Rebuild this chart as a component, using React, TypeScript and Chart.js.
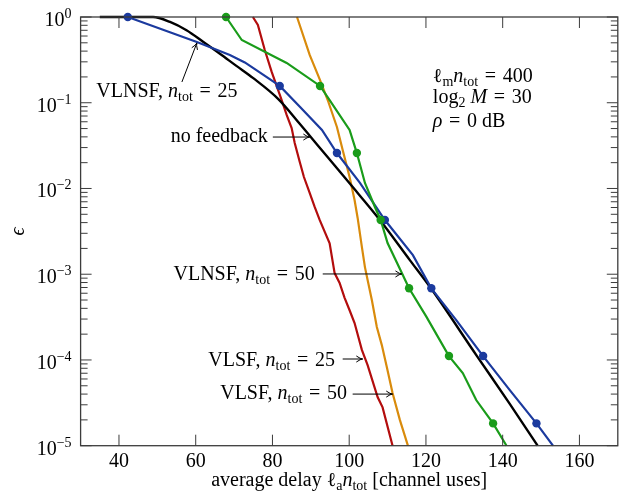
import React, { useEffect, useRef } from "react";
import { Chart, registerables } from "chart.js";
Chart.register(...registerables);

// ---------- axes ----------
const X_MIN = 30;
const X_MAX = 170;
const xTickValues = [40, 60, 80, 100, 120, 140, 160];
const yTickExponents = [0, -1, -2, -3, -4, -5];

// ---------- data ----------
// VLNSF, n_tot = 25 (blue)
const vlnsf25X = [42.3, 60.3, 68.9, 72.8, 81.9, 87.2, 92.9, 96.8, 102.8, 109.3, 116.6, 121.4, 127.9, 134.9, 141.8, 148.8, 153.1];
const vlnsf25Y = [1, 0.511, 0.361, 0.295, 0.157, 0.0891, 0.0481, 0.0259, 0.0116, 0.00429, 0.00167, 0.000685, 0.000292, 0.000111, 4.47e-5, 1.82e-5, 1e-5];
const vlnsf25Marks = [0, 4, 7, 9, 11, 13, 15];

// VLNSF, n_tot = 50 (green)
const vlnsf50X = [67.9, 72.0, 83.7, 92.4, 94.9, 100.1, 102.0, 104.1, 106.7, 108.2, 110.0, 113.1, 115.6, 120.1, 126.0, 129.6, 133.1, 137.5, 141.0];
const vlnsf50Y = [1, 0.539, 0.291, 0.157, 0.1076, 0.0481, 0.0259, 0.0116, 0.00608, 0.00429, 0.00231, 0.00118, 0.000685, 0.00032, 0.000111, 7.05e-5, 3.41e-5, 1.82e-5, 1e-5];
const vlnsf50Marks = [0, 3, 6, 9, 12, 14, 17];

// no feedback (black)
const noFbX = [35, 48.9, 53.3, 57.6, 62.0, 66.3, 70.6, 74.9, 81.6, 87.1, 91.5, 100.1, 108.0, 115.8, 121.3, 133.3, 141.8, 149.1];
const noFbY = [1, 0.998, 0.875, 0.70, 0.511, 0.373, 0.269, 0.195, 0.1096, 0.0569, 0.0331, 0.01148, 0.00429, 0.00146, 0.000685, 0.000111, 3.1e-5, 1e-5];

// VLSF, n_tot = 25 (red)
const vlsf25X = [74.9, 76.2, 78.0, 79.8, 82.4, 83.7, 85.0, 85.8, 87.1, 88.2, 89.7, 91.0, 92.3, 94.9, 96.2, 97.5, 98.8, 100.1, 101.4, 103.3, 104.8, 107.4, 108.7, 111.3];
const vlsf25Y = [1, 0.807, 0.412, 0.229, 0.1076, 0.072, 0.0507, 0.034, 0.0205, 0.0136, 0.0089, 0.0061, 0.0043, 0.0023, 0.00103, 0.00079, 0.00053, 0.00038, 0.00027, 0.000131, 8.7e-5, 3.7e-5, 2.8e-5, 1e-5];

// VLSF, n_tot = 50 (orange)
const vlsf50X = [86.4, 89.7, 92.4, 94.4, 96.8, 98.3, 100.1, 101.4, 102.2, 103.3, 104.1, 104.8, 105.9, 107.2, 108.5, 109.8, 111.3, 113.2, 115.3];
const vlsf50Y = [1, 0.361, 0.184, 0.1076, 0.0521, 0.0281, 0.0136, 0.00734, 0.00453, 0.00208, 0.00121, 0.000857, 0.000501, 0.000242, 0.000149, 8.28e-5, 4.12e-5, 2.0e-5, 1e-5];

// ---------- colours ----------
const BLUE = "#1b3a9e";
const GREEN = "#1a9c1a";
const BLACK = "#000000";
const RED = "#b30d0d";
const ORANGE = "#d98b0c";
const FRAME = "#3c3c3c";

// ---------- text ----------
const FONT_FAMILY = '"Liberation Serif", "DejaVu Serif", serif';
const FS = 20;
const SS = 14;
const EQ = "\u2004=\u2004";

type Seg = { t: string; k: "rm" | "it" | "sub" | "sup" };

const nTot: Seg[] = [{ t: "n", k: "it" }, { t: "tot", k: "sub" }];
const labelVlnsf25: Seg[] = [{ t: "VLNSF, ", k: "rm" }, ...nTot, { t: EQ + "25", k: "rm" }];
const labelVlnsf50: Seg[] = [{ t: "VLNSF, ", k: "rm" }, ...nTot, { t: EQ + "50", k: "rm" }];
const labelVlsf25: Seg[] = [{ t: "VLSF, ", k: "rm" }, ...nTot, { t: EQ + "25", k: "rm" }];
const labelVlsf50: Seg[] = [{ t: "VLSF, ", k: "rm" }, ...nTot, { t: EQ + "50", k: "rm" }];
const labelNoFb: Seg[] = [{ t: "no feedback", k: "rm" }];

const infoLines: Seg[][] = [
  [{ t: "ℓ", k: "rm" }, { t: "m", k: "sub" }, { t: "n", k: "it" }, { t: "tot", k: "sub" }, { t: EQ + "400", k: "rm" }],
  [{ t: "log", k: "rm" }, { t: "2", k: "sub" }, { t: " ", k: "rm" }, { t: "M", k: "it" }, { t: EQ + "30", k: "rm" }],
  [{ t: "ρ", k: "it" }, { t: EQ + "0 dB", k: "rm" }],
];
const infoX = 121.8;
const infoY = [0.1746, 0.0993, 0.0521];

const xTitle: Seg[] = [
  { t: "average delay ", k: "rm" },
  { t: "ℓ", k: "rm" },
  { t: "a", k: "sub" },
  { t: "n", k: "it" },
  { t: "tot", k: "sub" },
  { t: " [channel uses]", k: "rm" },
];
const yTitle = "ϵ";

// curve labels anchored in data coordinates (x value, y value at baseline)
const curveLabels = [
  { segs: labelVlnsf25, x: 52.5, y: 0.1167, align: "center" },
  { segs: labelNoFb, x: 78.8, y: 0.0348, align: "right" },
  { segs: labelVlnsf50, x: 91.0, y: 0.000857, align: "right" },
  { segs: labelVlsf25, x: 96.3, y: 8.5e-5, align: "right" },
  { segs: labelVlsf50, x: 99.4, y: 3.5e-5, align: "right" },
];
const arrows = [
  { x0: 56.4, y0: 0.1746, x1: 60.3, y1: 0.498 },
  { x0: 80.1, y0: 0.0398, x1: 89.7, y1: 0.0398 },
  { x0: 93.1, y0: 0.001007, x1: 113.7, y1: 0.001007 },
  { x0: 98.3, y0: 1.026e-4, x1: 103.5, y1: 1.026e-4 },
  { x0: 100.9, y0: 4.0e-5, x1: 111.3, y1: 4.0e-5 },
];

function fontFor(k: string) {
  if (k === "it") return `italic ${FS}px ${FONT_FAMILY}`;
  if (k === "sub" || k === "sup") return `${SS}px ${FONT_FAMILY}`;
  return `${FS}px ${FONT_FAMILY}`;
}
function richWidth(ctx: CanvasRenderingContext2D, segs: Seg[]) {
  let w = 0;
  for (const s of segs) {
    ctx.font = fontFor(s.k);
    w += ctx.measureText(s.t).width;
  }
  return w;
}
function drawRich(ctx: CanvasRenderingContext2D, segs: Seg[], x: number, y: number, align: string) {
  const w = richWidth(ctx, segs);
  let cx = align === "right" ? x - w : align === "center" ? x - w / 2 : x;
  ctx.textAlign = "left";
  ctx.textBaseline = "alphabetic";
  for (const s of segs) {
    ctx.font = fontFor(s.k);
    const dy = s.k === "sub" ? 4 : s.k === "sup" ? -8 : 0;
    ctx.fillText(s.t, cx, y + dy);
    cx += ctx.measureText(s.t).width;
  }
}

function pts(xs: number[], ys: number[]) {
  return xs.map((x, i) => ({ x, y: ys[i] }));
}
function radii(n: number, marks: number[], r: number) {
  return Array.from({ length: n }, (_, i) => (marks.includes(i) ? r : 0));
}

const decorPlugin = {
  id: "decor",
  afterDatasetsDraw(chart: any) {
    const { ctx, chartArea: a, scales } = chart;
    const xs = scales.x;
    const ys = scales.y;
    ctx.save();
    ctx.strokeStyle = FRAME;
    ctx.lineWidth = 1;
    ctx.beginPath();
    const MAJ = 11;
    const MIN = 7;
    for (const v of xTickValues) {
      const px = xs.getPixelForValue(v);
      ctx.moveTo(px, a.bottom);
      ctx.lineTo(px, a.bottom - MAJ);
      ctx.moveTo(px, a.top);
      ctx.lineTo(px, a.top + MAJ);
    }
    for (const e of yTickExponents) {
      const py = ys.getPixelForValue(Math.pow(10, e));
      ctx.moveTo(a.left, py);
      ctx.lineTo(a.left + MAJ, py);
      ctx.moveTo(a.right, py);
      ctx.lineTo(a.right - MAJ, py);
      if (e < 0) {
        for (let m = 2; m <= 9; m++) {
          const pm = ys.getPixelForValue(m * Math.pow(10, e));
          ctx.moveTo(a.left, pm);
          ctx.lineTo(a.left + MIN, pm);
          ctx.moveTo(a.right, pm);
          ctx.lineTo(a.right - MIN, pm);
        }
      }
    }
    ctx.stroke();
    ctx.lineWidth = 1.3;
    ctx.strokeRect(a.left, a.top, a.right - a.left, a.bottom - a.top);

    ctx.fillStyle = "#000";
    // x tick labels
    for (const v of xTickValues) {
      const px = xs.getPixelForValue(v);
      drawRich(ctx, [{ t: String(v), k: "rm" }], px, a.bottom + 21, "center");
    }
    // y tick labels
    for (const e of yTickExponents) {
      const py = ys.getPixelForValue(Math.pow(10, e));
      const exp = e === 0 ? "0" : "\u2212" + String(-e);
      drawRich(ctx, [{ t: "10", k: "rm" }, { t: exp, k: "sup" }], a.left - 9, py + 9, "right");
    }
    // axis titles
    drawRich(ctx, xTitle, (a.left + a.right) / 2, a.bottom + 40, "center");
    ctx.save();
    ctx.translate(a.left - 62, (a.top + a.bottom) / 2);
    ctx.rotate(-Math.PI / 2);
    ctx.font = `italic ${FS}px ${FONT_FAMILY}`;
    ctx.textAlign = "center";
    ctx.textBaseline = "middle";
    ctx.fillText(yTitle, 0, 0);
    ctx.restore();

    // curve labels
    for (const l of curveLabels) {
      drawRich(ctx, l.segs, xs.getPixelForValue(l.x), ys.getPixelForValue(l.y), l.align);
    }
    // info
    infoLines.forEach((line, i) => {
      drawRich(ctx, line, xs.getPixelForValue(infoX), ys.getPixelForValue(infoY[i]), "left");
    });
    // arrows
    ctx.strokeStyle = "#000";
    ctx.lineWidth = 1;
    for (const ar of arrows) {
      const x0 = xs.getPixelForValue(ar.x0);
      const y0 = ys.getPixelForValue(ar.y0);
      const x1 = xs.getPixelForValue(ar.x1);
      const y1 = ys.getPixelForValue(ar.y1);
      const ang = Math.atan2(y1 - y0, x1 - x0);
      ctx.beginPath();
      ctx.moveTo(x0, y0);
      ctx.lineTo(x1, y1);
      const hl = 7;
      const hw = 0.45;
      ctx.moveTo(x1 - hl * Math.cos(ang - hw), y1 - hl * Math.sin(ang - hw));
      ctx.quadraticCurveTo(x1 - 2 * Math.cos(ang), y1 - 2 * Math.sin(ang), x1, y1);
      ctx.quadraticCurveTo(x1 - 2 * Math.cos(ang), y1 - 2 * Math.sin(ang), x1 - hl * Math.cos(ang + hw), y1 - hl * Math.sin(ang + hw));
      ctx.stroke();
    }
    ctx.restore();
  },
};

function lineDs(label: string, xs: number[], ys: number[], color: string, marks: number[], extra: any = {}) {
  return {
    label,
    data: pts(xs, ys),
    showLine: true,
    borderColor: color,
    backgroundColor: color,
    borderWidth: 2.2,
    pointRadius: radii(xs.length, marks, 4.2),
    pointHoverRadius: 0,
    pointBackgroundColor: color,
    pointBorderWidth: 0,
    tension: 0,
    clip: 8,
    ...extra,
  };
}

export default function App() {
  const ref = useRef<HTMLCanvasElement>(null);
  useEffect(() => {
    if (!ref.current) return;
    const chart = new Chart(ref.current, {
      type: "scatter",
      data: {
        datasets: [
          lineDs("VLNSF, n_tot = 50", vlnsf50X, vlnsf50Y, GREEN, vlnsf50Marks),
          lineDs("VLNSF, n_tot = 25", vlnsf25X, vlnsf25Y, BLUE, vlnsf25Marks),
          lineDs("no feedback", noFbX, noFbY, BLACK, [], { cubicInterpolationMode: "monotone", borderWidth: 2.4 }),
          lineDs("VLSF, n_tot = 50", vlsf50X, vlsf50Y, ORANGE, []),
          lineDs("VLSF, n_tot = 25", vlsf25X, vlsf25Y, RED, []),
        ] as any,
      },
      options: {
        responsive: false,
        animation: false,
        devicePixelRatio: 1,
        layout: { padding: { left: 80.6, right: 3.5, top: 17, bottom: 47.3 } },
        plugins: { legend: { display: false }, tooltip: { enabled: false } },
        events: [],
        scales: {
          x: { type: "linear", min: X_MIN, max: X_MAX, display: false },
          y: { type: "logarithmic", min: 1e-5, max: 1, display: false },
        },
      } as any,
      plugins: [decorPlugin],
    });
    return () => chart.destroy();
  }, []);
  return (
    <div style={{ position: "absolute", left: 0, top: 0, width: 622, height: 493, background: "#fff" }}>
      <canvas ref={ref} width={622} height={493} style={{ display: "block" }} />
    </div>
  );
}
